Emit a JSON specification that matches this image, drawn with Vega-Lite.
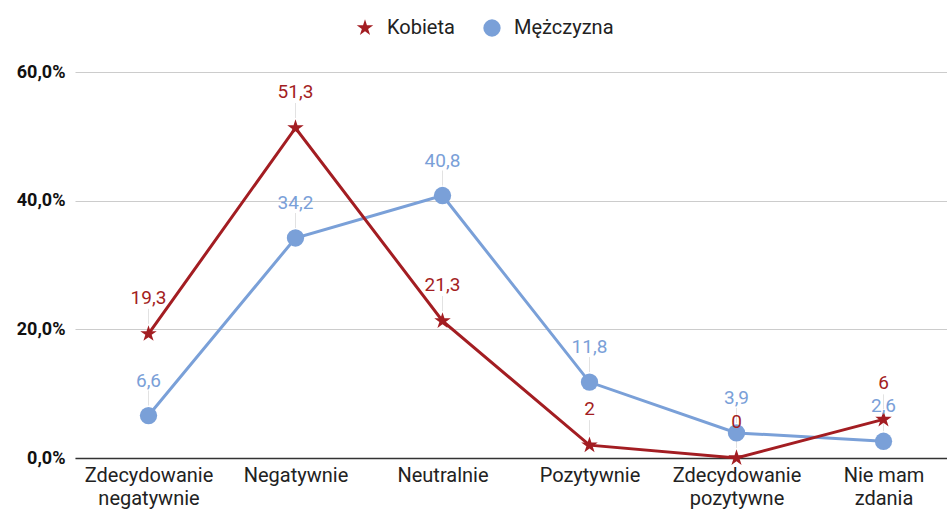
{
  "$schema": "https://vega.github.io/schema/vega-lite/v6.json",
  "width": 872,
  "height": 386,
  "autosize": {"type": "none"},
  "padding": {"left": 75, "top": 72, "right": 0, "bottom": 56},
  "background": "white",
  "config": {
    "font": "Roboto",
    "view": {"stroke": null},
    "locale": {"number": {"decimal": ",", "thousands": "\u00a0", "grouping": [3], "currency": ["", " zł"]}}
  },
  "data": {
    "values": [
      {"kategoria": "Zdecydowanie negatywnie", "seria": "Kobieta", "wartosc": 19.3},
      {"kategoria": "Negatywnie", "seria": "Kobieta", "wartosc": 51.3},
      {"kategoria": "Neutralnie", "seria": "Kobieta", "wartosc": 21.3},
      {"kategoria": "Pozytywnie", "seria": "Kobieta", "wartosc": 2},
      {"kategoria": "Zdecydowanie pozytywne", "seria": "Kobieta", "wartosc": 0},
      {"kategoria": "Nie mam zdania", "seria": "Kobieta", "wartosc": 6},
      {"kategoria": "Zdecydowanie negatywnie", "seria": "Mężczyzna", "wartosc": 6.6},
      {"kategoria": "Negatywnie", "seria": "Mężczyzna", "wartosc": 34.2},
      {"kategoria": "Neutralnie", "seria": "Mężczyzna", "wartosc": 40.8},
      {"kategoria": "Pozytywnie", "seria": "Mężczyzna", "wartosc": 11.8},
      {"kategoria": "Zdecydowanie pozytywne", "seria": "Mężczyzna", "wartosc": 3.9},
      {"kategoria": "Nie mam zdania", "seria": "Mężczyzna", "wartosc": 2.6}
    ]
  },
  "encoding": {
    "x": {
      "field": "kategoria",
      "type": "ordinal",
      "sort": ["Zdecydowanie negatywnie", "Negatywnie", "Neutralnie", "Pozytywnie", "Zdecydowanie pozytywne", "Nie mam zdania"],
      "scale": {"type": "point", "padding": 0.466, "align": 0.5365},
      "axis": {
        "title": null,
        "labelAngle": 0,
        "ticks": false,
        "grid": false,
        "domainColor": "#333333",
        "domainWidth": 1.5,
        "labelFont": "Roboto",
        "labelFontSize": 20,
        "labelColor": "#222222",
        "labelPadding": 7,
        "labelLineHeight": 23,
        "labelExpr": "datum.label == 'Nie mam zdania' ? ['Nie mam', 'zdania'] : split(datum.label, ' ')"
      }
    },
    "y": {
      "field": "wartosc",
      "type": "quantitative",
      "scale": {"domain": [0, 60], "nice": false},
      "axis": {
        "title": null,
        "values": [0, 20, 40, 60],
        "format": ".1f",
        "labelExpr": "datum.label + '%'",
        "domain": false,
        "ticks": false,
        "labelFont": "Roboto",
        "labelFontSize": 18,
        "labelFontWeight": "bold",
        "labelColor": "#111111",
        "labelPadding": 10,
        "gridColor": "#cccccc",
        "gridWidth": 1.2
      }
    }
  },
  "layer": [
    {
      "mark": {"type": "rule", "color": "#e2e2e2", "strokeWidth": 1, "yOffset": -10, "y2Offset": -25},
      "encoding": {"y2": {"field": "wartosc"}}
    },
    {
      "transform": [{"filter": "datum.seria == 'Mężczyzna'"}],
      "mark": {"type": "line", "color": "#7aa0d8", "strokeWidth": 3}
    },
    {
      "transform": [{"filter": "datum.seria == 'Kobieta'"}],
      "mark": {"type": "line", "color": "#a31d22", "strokeWidth": 3}
    },
    {
      "mark": {"type": "point", "filled": true, "opacity": 1, "size": 300},
      "encoding": {
        "color": {
          "field": "seria",
          "type": "nominal",
          "scale": {"domain": ["Kobieta", "Mężczyzna"], "range": ["#a31d22", "#7aa0d8"]},
          "legend": {
            "title": null,
            "orient": "none",
            "legendX": 280,
            "legendY": -54,
            "direction": "horizontal",
            "labelFont": "Roboto",
            "labelFontSize": 20,
            "labelColor": "#222222",
            "symbolSize": 300,
            "labelOffset": 12,
            "columnPadding": 27
          }
        },
        "shape": {
          "field": "seria",
          "type": "nominal",
          "scale": {
            "domain": ["Kobieta", "Mężczyzna"],
            "range": ["M0,-1L0.2245,-0.309L0.951,-0.309L0.363,0.118L0.588,0.809L0,0.382L-0.588,0.809L-0.363,0.118L-0.951,-0.309L-0.2245,-0.309Z", "circle"]
          }
        }
      }
    },
    {
      "transform": [{"filter": "datum.seria == 'Mężczyzna'"}],
      "mark": {"type": "text", "dy": -35, "baseline": "middle", "fontSize": 19, "font": "Roboto", "color": "#7aa0d8"},
      "encoding": {"text": {"field": "wartosc", "type": "quantitative", "format": ".3~g"}}
    },
    {
      "transform": [{"filter": "datum.seria == 'Kobieta'"}],
      "mark": {"type": "text", "dy": -36, "baseline": "middle", "fontSize": 19, "font": "Roboto", "color": "#a31d22"},
      "encoding": {"text": {"field": "wartosc", "type": "quantitative", "format": ".3~g"}}
    }
  ]
}
